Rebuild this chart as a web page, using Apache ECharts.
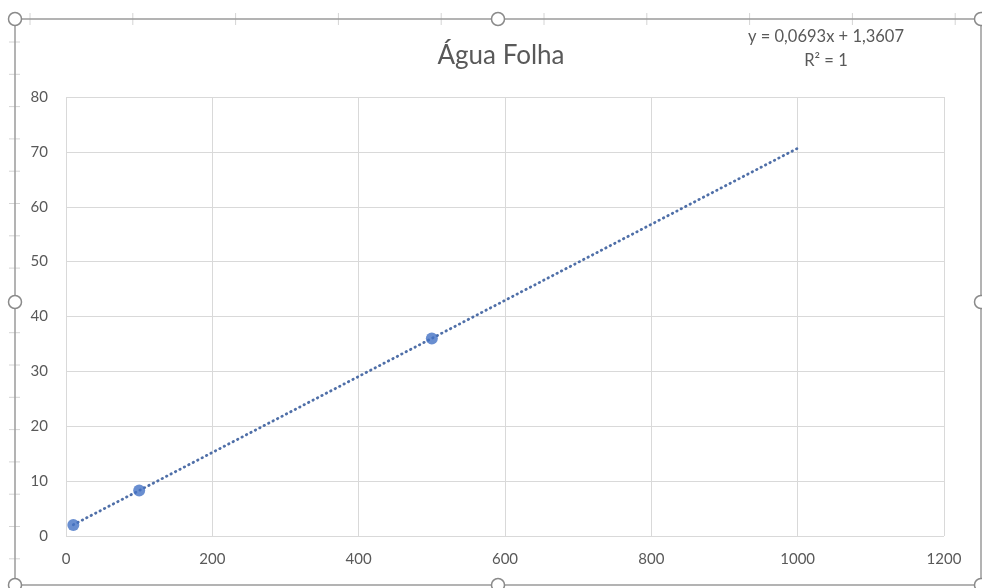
<!DOCTYPE html>
<html>
<head>
<meta charset="utf-8">
<script src="https://cdn.jsdelivr.net/npm/echarts@6/dist/echarts.min.js"></script>
<style>
html,body{margin:0;padding:0;background:#fff;}
#c{width:982px;height:588px;}
</style>
</head>
<body>
<div id="c"></div>
<script>
// Data
var pointsX = [10, 100, 500];
var pointsY = [2.0, 8.3, 36.0];
// Linear trendline drawn by Excel from first point to x = 1000
var trendX = [10, 1000];
var trendY = [2.05, 70.66];
var xTicks = [0, 200, 400, 600, 800, 1000, 1200];
var yTicks = [0, 10, 20, 30, 40, 50, 60, 70, 80];
var titleText = 'Água Folha';
var eqText = 'y = 0,0693x + 1,3607';
var r2Text = 'R² = 1';

var font = 'Lato, "Open Sans", sans-serif';
var chart = echarts.init(document.getElementById('c'), null, {renderer: 'canvas'});

// decoration: Excel selection frame, handles, faint sheet gridline ticks
var deco = [];
var L = 15, T = 19, R = 981, B = 585;
for (var cx = 30; cx < 982; cx += 102.8) {
  deco.push({type: 'line', shape: {x1: cx, y1: 13, x2: cx, y2: 25}, style: {stroke: '#d4d4d4', lineWidth: 1}, z: 1});
}
for (var ry = 42; ry < 585; ry += 32.3) {
  deco.push({type: 'line', shape: {x1: 9, y1: ry, x2: 20, y2: ry}, style: {stroke: '#d4d4d4', lineWidth: 1}, z: 1});
}
deco.push({type: 'rect', shape: {x: L, y: T, width: R - L, height: B - T}, style: {fill: null, stroke: '#9b9b9b', lineWidth: 1.5}, z: 2});
var handles = [[L, T], [(L + R) / 2, T], [R, T], [L, (T + B) / 2], [R, (T + B) / 2], [L, B], [(L + R) / 2, B], [R, B]];
handles.forEach(function (h) {
  deco.push({type: 'circle', shape: {cx: h[0], cy: h[1], r: 6.5}, style: {fill: '#fff', stroke: '#8a8a8a', lineWidth: 1.5}, z: 3});
});
deco.push({type: 'text', x: 826, y: 37, style: {text: eqText, font: '16.5px ' + font, fill: '#595959', textAlign: 'center', textVerticalAlign: 'middle'}, z: 4});
deco.push({type: 'text', x: 826, y: 61, style: {text: r2Text, font: '16.5px ' + font, fill: '#595959', textAlign: 'center', textVerticalAlign: 'middle'}, z: 4});
deco.push({type: 'text', x: 501, y: 56, style: {text: titleText, font: '26px ' + font, fill: '#595959', textAlign: 'center', textVerticalAlign: 'middle'}, z: 4});

chart.setOption({
  backgroundColor: '#fff',
  animation: false,
  grid: {left: 66, right: 38, top: 97, bottom: 52, containLabel: false},
  xAxis: {
    type: 'value', min: xTicks[0], max: xTicks[xTicks.length - 1], interval: xTicks[1] - xTicks[0],
    axisLine: {show: false}, axisTick: {show: false},
    axisLabel: {margin: 16, color: '#595959', fontFamily: font, fontSize: 15,
      formatter: function (v) { return String(v); }},
    splitLine: {show: true, lineStyle: {color: '#d9d9d9', width: 1}}
  },
  yAxis: {
    type: 'value', min: yTicks[0], max: yTicks[yTicks.length - 1], interval: yTicks[1] - yTicks[0],
    axisLine: {show: false}, axisTick: {show: false},
    axisLabel: {margin: 18, color: '#595959', fontFamily: font, fontSize: 15,
      formatter: function (v) { return String(v); }},
    splitLine: {show: true, lineStyle: {color: '#d9d9d9', width: 1}}
  },
  graphic: deco,
  series: [
    {
      type: 'line', name: 'trend',
      data: trendX.map(function (x, i) { return [x, trendY[i]]; }),
      showSymbol: false, symbol: 'none',
      lineStyle: {color: '#4f6fa8', width: 2.8, type: [0.5, 4.5], cap: 'round'},
      z: 2, silent: true
    },
    {
      type: 'scatter', name: 'Água Folha',
      data: pointsX.map(function (x, i) { return [x, pointsY[i]]; }),
      symbol: 'circle', symbolSize: 12,
      itemStyle: {color: '#4472C4'},
      z: 3
    }
  ]
});
</script>
</body>
</html>
